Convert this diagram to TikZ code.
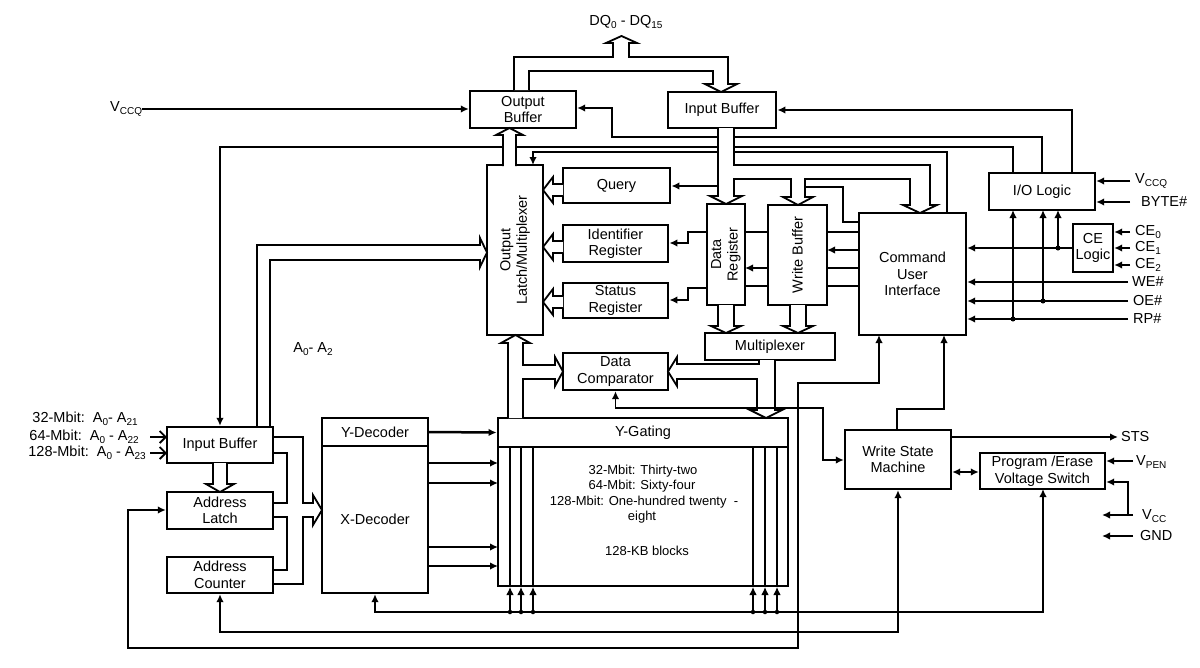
\documentclass[tikz,border=0pt]{standalone}
\usepackage{fontspec}
\setmainfont{Liberation Sans}
\usetikzlibrary{arrows.meta}
\newcommand{\subx}[1]{\raisebox{-0.35ex}{\fontsize{10}{10}\selectfont #1}}
\begin{document}
\begin{tikzpicture}[x=1pt,y=-1pt,
  box/.style={draw, line width=2.3pt, fill=white, inner sep=0pt, align=center, font=\fontsize{14.5}{16.5}\selectfont},
  tbox/.style={box, line width=2.8pt},
  lbl/.style={font=\fontsize{14.5}{16.5}\selectfont, inner sep=0pt},
  mtxt/.style={font=\fontsize{13}{14}\selectfont, inner sep=0pt},
  con/.style={line width=1.8pt},
  tcon/.style={line width=1.1pt},
  wcon/.style={line width=2.5pt},
  arr/.style={-{Latex[length=8pt,width=7.5pt]}},
  arrs/.style={{Latex[length=8pt,width=7.5pt]}-{Latex[length=8pt,width=7.5pt]}},
  busl/.style={line width=1.8pt, line join=miter},
  dot/.style={circle, fill, inner sep=0pt, minimum size=5pt}]
\useasboundingbox (0,0) rectangle (1200,667);
\fill[white] (0,0) rectangle (1200,667);

% ---------------- boxes ----------------
\node[box, minimum width=106, minimum height=37] (ob) at (523,109.5) {Output\\Buffer};
\node[tbox, minimum width=108, minimum height=36] (ib) at (722,110) {Input Buffer};
\node[box, minimum width=56, minimum height=170] (olm) at (515,250) {};
\node[lbl, rotate=90, align=center] (olmt) at (olm.center) {Output\\Latch/Multiplexer};
\node[tbox, minimum width=107, minimum height=35] (q) at (616.5,185.5) {Query};
\node[tbox, minimum width=105, minimum height=37] (idr) at (615.5,243.5) {Identifier\\Register};
\node[tbox, minimum width=105, minimum height=35] (sr) at (615.5,300.5) {Status\\Register};
\node[box, minimum width=38, minimum height=101] (dr) at (726,254.5) {};
\node[lbl, rotate=90, align=center] (drt) at (dr.center) {Data\\Register};
\node[box, minimum width=59, minimum height=100] (wb) at (797.5,255) {};
\node[lbl, rotate=90] (wbt) at (wb.center) {Write Buffer};
\node[box, minimum width=130, minimum height=27] (mux) at (770,346.5) {Multiplexer};
\node[box, minimum width=107, minimum height=122] (cui) at (912.5,274) {Command\\User\\Interface};
\node[box, minimum width=106, minimum height=37] (io) at (1042,191.5) {I/O Logic};
\node[box, minimum width=40, minimum height=48] (ce) at (1093,248) {CE\\Logic};
\node[box, minimum width=105, minimum height=37] (dc) at (615.5,371.5) {Data\\Comparator};
\node[draw, line width=1.8pt, minimum width=290, minimum height=139, inner sep=0pt] (mem) at (643,516.5) {};
\node[tbox, minimum width=290, minimum height=29] (yg) at (643,432.5) {Y-Gating};
\node[draw, line width=2.3pt, minimum width=106, minimum height=175, inner sep=0pt] (xd) at (375,505.5) {};
\draw[line width=2.3pt] (322,446) -- (428,446);
\node[lbl] (ydt) at (375,432) {Y-Decoder};
\node[lbl] (xdt) at (375,519) {X-Decoder};
\node[box, minimum width=106, minimum height=36] (lib) at (220,445) {Input Buffer};
\node[box, minimum width=106, minimum height=37] (al) at (220,510.5) {Address\\Latch};
\node[box, minimum width=106, minimum height=36] (ac) at (220,575) {Address\\Counter};
\node[box, minimum width=106, minimum height=59] (wsm) at (898,459.5) {Write State\\Machine};
\node[box, minimum width=125, minimum height=36] (pevs) at (1042.5,471) {Program /Erase\\Voltage Switch};

% ---------------- texts ----------------
\node[lbl] (dq) at (626,22) {DQ\subx{0} - DQ\subx{15}};
\node[lbl, anchor=west] (vccql) at (110,109) {V\subx{CCQ}};
\node[lbl] (a02) at (313,349) {A\subx{0}- A\subx{2}};
\node[lbl, anchor=east] (a32) at (138,419) {32-Mbit:\ \ A\subx{0}- A\subx{21}};
\node[lbl, anchor=east] (a64) at (139,437) {64-Mbit:\ \ A\subx{0} - A\subx{22}};
\node[lbl, anchor=east] (a128) at (146,453) {128-Mbit:\ \ A\subx{0} - A\subx{23}};
\node[mtxt] (m1) at (643,471) {32-Mbit: Thirty-two};
\node[mtxt] (m2) at (642,486) {64-Mbit: Sixty-four};
\node[mtxt] (m3) at (644,502) {128-Mbit: One-hundred twenty\ \ -};
\node[mtxt] (m4) at (642,517) {eight};
\node[mtxt] (m5) at (647,551) {128-KB blocks};
\node[lbl, anchor=west] (vccqr) at (1135,181) {V\subx{CCQ}};
\node[lbl, anchor=west] (byte) at (1141,202) {BYTE\#};
\node[lbl, anchor=west] (ce0) at (1135,232) {CE\subx{0}};
\node[lbl, anchor=west] (ce1) at (1135,248) {CE\subx{1}};
\node[lbl, anchor=west] (ce2) at (1135,265) {CE\subx{2}};
\node[lbl, anchor=west] (we) at (1132,282) {WE\#};
\node[lbl, anchor=west] (oe) at (1133,301) {OE\#};
\node[lbl, anchor=west] (rp) at (1133,319) {RP\#};
\node[lbl, anchor=west] (sts) at (1121,437) {STS};
\node[lbl, anchor=west] (vpen) at (1136,462) {V\subx{PEN}};
\node[lbl, anchor=west] (vcc) at (1142,516) {V\subx{CC}};
\node[lbl, anchor=west] (gnd) at (1140,536) {GND};

% ---------------- connectors (top) ----------------
\draw[con,arr] (vccql.east |- 0,109) -- (ob.west |- 0,109);
\draw[con,arr] (1072,173) -- (1072,110) -- (ib.east);
\draw[con,arr] (1042,173) -- (1042,137) -- (612,137) -- (612,108) -- (ob.east |- 0,108);
\draw[con,arr] (1013,173) -- (1013,147) -- (220,147) -- (lib.north);
\draw[con,arr] (947,213) -- (947,152) -- (533,152) -- (533,165);
\draw[con,arr] (718,186) -- (q.east |- 0,186);
\draw[con,arr] (707,232) -- (688,232) -- (688,243) -- (idr.east |- 0,243);
\draw[con,arr] (707,288) -- (688,288) -- (688,300) -- (sr.east |- 0,300);
\draw[wcon] (745,232) -- (768,232);
\draw[con,arr] (768,268) -- (745,268);
\draw[con] (745,286) -- (768,286);
\draw[con] (859,232) -- (827,232);
\draw[con,arr] (859,250) -- (827,250);
\draw[con] (859,268) -- (827,268);
\draw[con] (859,286) -- (827,286);
\draw[con] (805,187) -- (843,187) -- (843,222) -- (859,222);

% DQ bus
\filldraw[busl, fill=white] (514,90) -- (514,57) -- (613,57) -- (613,43) -- (606,43) -- (621.5,36) -- (637,43) -- (629,43) -- (629,57) -- (728,57) -- (728,84) -- (737,84) -- (721,92) -- (705,84) -- (713,84) -- (713,71) -- (529,71) -- (529,90);
% output latch -> output buffer
\filldraw[busl, fill=white] (503,166) -- (503,135) -- (496,135) -- (509.5,128) -- (523,135) -- (516,135) -- (516,166);
% input buffer data bus
\filldraw[busl, fill=white] (718,128) -- (718,196) -- (710,196) -- (726,204) -- (742,196) -- (734,196) -- (734,179) -- (791,179) -- (791,197) -- (783,197) -- (798,205) -- (813,197) -- (805,197) -- (805,179) -- (910,179) -- (910,205) -- (903,205) -- (920,213) -- (937,205) -- (930,205) -- (930,165) -- (734,165) -- (734,128);
% registers -> output latch
\foreach \cy in {190,247,302}{
  \filldraw[busl, fill=white] (563,\cy-6) -- (553,\cy-6) -- (553,\cy-13) -- (543,\cy) -- (553,\cy+13) -- (553,\cy+6) -- (563,\cy+6);
}
% A0-A2 bus
\draw[busl] (257,427) -- (257,245) -- (480,245) -- (480,238) -- (487,252.5) -- (480,267) -- (480,260) -- (270,260) -- (270,427);
% DR, WB -> multiplexer
\filldraw[busl, fill=white] (718,305) -- (718,326) -- (711,326) -- (726,333) -- (741,326) -- (734,326) -- (734,305);
\filldraw[busl, fill=white] (790,305) -- (790,326) -- (783,326) -- (798,333) -- (813,326) -- (806,326) -- (806,305);
% Y-gating -> output latch / data comparator
\filldraw[busl, fill=white] (508,418) -- (508,343) -- (501,343) -- (515.5,335) -- (530,343) -- (523,343) -- (523,365) -- (555,365) -- (555,357) -- (563,371.5) -- (555,386) -- (555,379) -- (523,379) -- (523,418);
% multiplexer -> data comparator / Y-gating
\filldraw[busl, fill=white] (759,360) -- (759,364) -- (677,364) -- (677,357) -- (668,371.5) -- (677,386) -- (677,379) -- (757,379) -- (757,410) -- (750,410) -- (766,418) -- (782,410) -- (775,410) -- (775,360);

% data comparator <-> write state machine
\draw[con,arrs] (dc.south) -- (615.5,408) -- (823,408) -- (823,460) -- (wsm.west |- 0,460);
% WSM -> CUI
\draw[con,arr] (897,430) -- (897,409) -- (944,409) -- (944,335);
% CUI <-> address latch
\draw[con,arrs] (al.west |- 0,510) -- (128,510) -- (128,648) -- (798,648) -- (798,383) -- (879,383) -- (879,335);
% X-decoder / array / PEVS
\draw[con,arrs] (xd.south) -- (375,612) -- (1043,612) -- (1043,489);
% address counter / WSM
\draw[con,arrs] (ac.south) -- (220,632) -- (898,632) -- (wsm.south);

% decoders -> array
\draw[wcon,arr] (428,432) -- (yg.west);
\foreach \yy in {463,483,547,566}{ \draw[wcon,arr] (428,\yy) -- (498,\yy); }
% array internal lines and arrows
\foreach \xx/\lw in {510/2.2pt,521/1.1pt,533/2.2pt,753/1.1pt,765/2.2pt,777/2.2pt}{
  \draw[line width=\lw] (\xx,447) -- (\xx,586);
  \draw[tcon,arr] (\xx,612) -- (\xx,587);
  \node[dot, minimum size=4.5pt] at (\xx,612) {};
}

% left address section
\draw[con, -{Straight Barb[length=6pt,width=12pt]}] (150,437) -- (167,437);
\draw[con, -{Straight Barb[length=6pt,width=12pt]}] (150,453) -- (167,453);
\filldraw[busl, fill=white] (213,463) -- (213,484) -- (206,484) -- (220,492) -- (234,484) -- (227,484) -- (227,463);
\draw[busl] (273,437) -- (303,437) -- (303,503) -- (313,503) -- (313,495) -- (322,510) -- (313,525) -- (313,517) -- (303,517) -- (303,584) -- (273,584);
\draw[tcon] (273,453) -- (287,453) -- (287,503) -- (273,503);
\draw[tcon] (273,517) -- (287,517) -- (287,570) -- (273,570);

% right side inputs
\draw[con,arr] (1130,181) -- (io.east |- 0,181);
\draw[wcon,arr] (1130,202) -- (io.east |- 0,202);
\draw[con,arr] (1130,232) -- (ce.east |- 0,232);
\draw[con,arr] (1130,248) -- (ce.east |- 0,248);
\draw[con,arr] (1130,265) -- (ce.east |- 0,265);
\draw[con,arr] (ce.west) -- (cui.east |- 0,248);
\draw[con,arr] (1128,282) -- (cui.east |- 0,282);
\draw[con,arr] (1128,301) -- (cui.east |- 0,301);
\draw[con,arr] (1128,319) -- (cui.east |- 0,319);
\draw[con,arr] (1013,319) -- (1013,210);
\draw[con,arr] (1043,301) -- (1043,210);
\draw[con,arr] (1058,248) -- (1058,210);
\node[dot] at (1013,319) {};
\node[dot] at (1043,301) {};
\node[dot] at (1058,248) {};

% WSM / PEVS area
\draw[con,arr] (wsm.east |- 0,437) -- (1118,437);
\draw[con,arrs] (wsm.east |- 0,472) -- (pevs.west |- 0,472);
\draw[con,arr] (1133,461) -- (pevs.east |- 0,461);
\draw[wcon,arr] (1128,515) -- (1128,482) -- (pevs.east |- 0,482);
\draw[con,arr] (1133,515) -- (1102,515);
\draw[con,arr] (1133,536) -- (1102,536);
\end{tikzpicture}
\end{document}
